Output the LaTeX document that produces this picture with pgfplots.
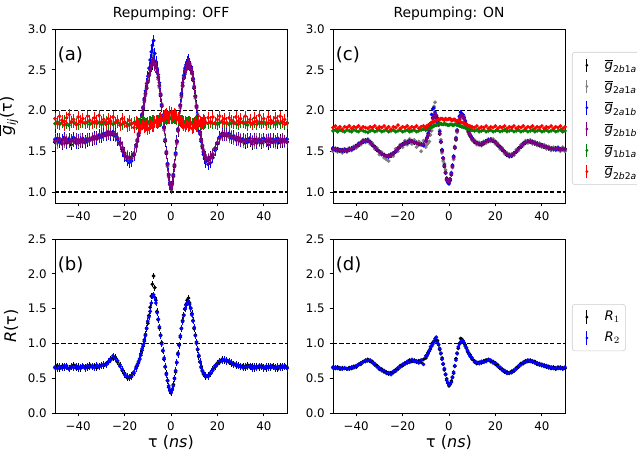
\documentclass[border=0pt]{standalone}
\usepackage{fontspec}
\setmainfont{DejaVu Sans}
\usepackage{amsmath}
\usepackage{pgfplots}
\pgfplotsset{compat=1.18}
\usepackage{pgfplotstable}
\definecolor{mgray}{HTML}{808080}
\definecolor{mblue}{HTML}{0000FF}
\definecolor{mpurple}{HTML}{800080}
\definecolor{mgreen}{HTML}{008000}
\definecolor{mred}{HTML}{FF0000}
\newcommand{\gs}[4]{$\overline{\textit{g}}_{\text{#1}\textit{#2}\text{#3}\textit{#4}}$}
% dot with a vertical error bar of fixed half length
\pgfdeclareplotmark{ebA}{%
  \pgfpathmoveto{\pgfqpoint{0pt}{-4.1pt}}\pgfpathlineto{\pgfqpoint{0pt}{4.1pt}}\pgfusepathqstroke
  \pgfpathcircle{\pgfpointorigin}{\pgfplotmarksize}\pgfusepathqfillstroke}
\pgfdeclareplotmark{ebB}{%
  \pgfpathmoveto{\pgfqpoint{0pt}{-2.2pt}}\pgfpathlineto{\pgfqpoint{0pt}{2.2pt}}\pgfusepathqstroke
  \pgfpathcircle{\pgfpointorigin}{\pgfplotmarksize}\pgfusepathqfillstroke}

% panel (a): t black gray blue purple green red
\pgfplotstableread{
t k s b p g r
-50 1.61 1.65 1.64 1.62 1.84 1.90
-49 1.64 1.60 1.66 1.63 1.86 1.84
-48 1.62 1.66 1.61 1.65 1.83 1.93
-47 1.59 1.63 1.64 1.60 1.85 1.88
-46 1.65 1.61 1.67 1.64 1.87 1.82
-45 1.60 1.64 1.60 1.62 1.84 1.91
-44 1.63 1.66 1.65 1.61 1.82 1.95
-43 1.58 1.62 1.63 1.64 1.85 1.86
-42 1.65 1.63 1.67 1.62 1.86 1.89
-41 1.62 1.65 1.60 1.65 1.84 1.83
-40 1.60 1.61 1.64 1.63 1.83 1.92
-39 1.64 1.65 1.62 1.61 1.86 1.87
-38 1.61 1.63 1.66 1.64 1.85 1.90
-37 1.63 1.60 1.61 1.62 1.84 1.85
-36 1.62 1.66 1.65 1.65 1.86 1.93
-35 1.66 1.63 1.64 1.64 1.83 1.88
-34 1.64 1.67 1.66 1.66 1.85 1.84
-33 1.65 1.65 1.68 1.65 1.86 1.91
-32 1.68 1.66 1.65 1.68 1.84 1.87
-31 1.67 1.70 1.70 1.67 1.85 1.94
-30 1.70 1.68 1.67 1.70 1.83 1.86
-29 1.69 1.72 1.72 1.69 1.85 1.89
-28 1.72 1.70 1.69 1.72 1.86 1.83
-27 1.71 1.74 1.74 1.71 1.84 1.90
-26 1.73 1.71 1.70 1.73 1.85 1.87
-25 1.70 1.73 1.74 1.72 1.83 1.92
-24 1.71 1.68 1.69 1.70 1.85 1.85
-23 1.65 1.67 1.64 1.66 1.86 1.88
-22 1.61 1.58 1.59 1.60 1.84 1.82
-21 1.52 1.55 1.50 1.54 1.83 1.90
-20 1.48 1.46 1.44 1.47 1.85 1.86
-19 1.42 1.44 1.39 1.43 1.84 1.81
-18 1.41 1.40 1.36 1.42 1.82 1.88
-17 1.43 1.42 1.38 1.41 1.84 1.84
-16 1.46 1.48 1.45 1.47 1.85 1.79
-15 1.58 1.55 1.56 1.57 1.83 1.86
-14 1.69 1.72 1.71 1.70 1.84 1.82
-13 1.87 1.85 1.88 1.86 1.85 1.78
-12 2.02 2.05 2.04 2.03 1.86 1.84
-11 2.21 2.18 2.24 2.20 1.84 1.80
-10 2.35 2.38 2.42 2.36 1.85 1.77
-9 2.51 2.49 2.62 2.50 1.86 1.83
-8 2.57 2.66 2.80 2.59 1.87 1.80
-7 2.60 2.57 2.70 2.56 1.86 1.86
-6 2.47 2.50 2.52 2.48 1.88 1.84
-5 2.31 2.28 2.34 2.30 1.87 1.90
-4 2.05 2.08 2.07 2.06 1.89 1.88
-3 1.79 1.76 1.80 1.78 1.90 1.94
-2 1.47 1.50 1.49 1.48 1.89 1.96
-1 1.21 1.18 1.22 1.20 1.91 1.92
0 1.04 1.07 1.06 1.05 1.90 1.97
1 1.19 1.22 1.21 1.20 1.92 1.93
2 1.47 1.45 1.48 1.46 1.90 1.95
3 1.75 1.78 1.77 1.76 1.89 1.91
4 2.06 2.03 2.07 2.05 1.88 1.87
5 2.31 2.29 2.34 2.30 1.87 1.84
6 2.47 2.50 2.52 2.48 1.86 1.80
7 2.58 2.55 2.60 2.57 1.85 1.85
8 2.55 2.58 2.57 2.56 1.86 1.82
9 2.47 2.45 2.48 2.46 1.84 1.78
10 2.27 2.30 2.29 2.28 1.85 1.84
11 2.06 2.03 2.04 2.05 1.86 1.81
12 1.82 1.85 1.82 1.83 1.84 1.87
13 1.65 1.63 1.62 1.64 1.85 1.83
14 1.49 1.52 1.46 1.50 1.83 1.89
15 1.43 1.41 1.37 1.42 1.85 1.85
16 1.39 1.41 1.34 1.40 1.84 1.91
17 1.43 1.41 1.36 1.42 1.86 1.86
18 1.45 1.47 1.42 1.46 1.84 1.92
19 1.54 1.52 1.51 1.53 1.85 1.84
20 1.59 1.61 1.60 1.60 1.83 1.89
21 1.67 1.65 1.68 1.66 1.85 1.93
22 1.69 1.71 1.72 1.70 1.86 1.87
23 1.72 1.70 1.69 1.71 1.84 1.90
24 1.69 1.72 1.71 1.70 1.85 1.85
25 1.70 1.67 1.72 1.69 1.83 1.91
26 1.67 1.69 1.66 1.68 1.85 1.88
27 1.68 1.65 1.69 1.67 1.86 1.84
28 1.65 1.67 1.64 1.66 1.84 1.92
29 1.66 1.63 1.67 1.65 1.83 1.87
30 1.63 1.66 1.62 1.64 1.85 1.90
31 1.64 1.61 1.65 1.63 1.86 1.85
32 1.60 1.64 1.63 1.62 1.84 1.93
33 1.65 1.62 1.61 1.64 1.82 1.86
34 1.62 1.66 1.66 1.63 1.85 1.89
35 1.59 1.63 1.62 1.61 1.84 1.83
36 1.64 1.60 1.65 1.64 1.86 1.91
37 1.61 1.65 1.60 1.62 1.83 1.87
38 1.63 1.62 1.64 1.65 1.85 1.94
39 1.60 1.64 1.61 1.61 1.84 1.86
40 1.65 1.61 1.66 1.63 1.86 1.90
41 1.62 1.63 1.62 1.64 1.83 1.84
42 1.58 1.66 1.64 1.62 1.85 1.92
43 1.64 1.62 1.61 1.65 1.84 1.88
44 1.61 1.64 1.65 1.61 1.86 1.85
45 1.63 1.60 1.62 1.63 1.83 1.91
46 1.60 1.65 1.66 1.64 1.85 1.87
47 1.64 1.62 1.61 1.62 1.84 1.93
48 1.61 1.64 1.64 1.65 1.86 1.86
49 1.63 1.61 1.62 1.63 1.83 1.89
50 1.62 1.65 1.65 1.61 1.85 1.84
-14.5 1.62 1.65 1.63 1.64 1.85 1.84
-13.5 1.79 1.76 1.80 1.78 1.84 1.80
-12.5 1.93 1.96 1.95 1.94 1.86 1.83
-11.5 2.13 2.10 2.15 2.12 1.85 1.79
-10.5 2.27 2.30 2.33 2.28 1.84 1.82
-9.5 2.45 2.42 2.52 2.43 1.86 1.78
-8.5 2.54 2.57 2.72 2.56 1.85 1.84
-7.5 2.62 2.68 2.86 2.61 1.87 1.81
-6.5 2.53 2.56 2.60 2.54 1.86 1.87
-5.5 2.41 2.38 2.44 2.40 1.88 1.85
-4.5 2.18 2.21 2.20 2.19 1.87 1.91
-3.5 1.93 1.90 1.94 1.92 1.89 1.89
-2.5 1.62 1.65 1.64 1.63 1.90 1.95
-1.5 1.34 1.31 1.35 1.33 1.90 1.93
-0.5 1.09 1.12 1.11 1.10 1.91 1.98
0.5 1.11 1.08 1.10 1.10 1.91 1.94
1.5 1.31 1.34 1.33 1.32 1.90 1.96
2.5 1.62 1.59 1.63 1.61 1.89 1.92
3.5 1.90 1.93 1.92 1.91 1.88 1.89
4.5 2.19 2.16 2.21 2.18 1.87 1.86
5.5 2.39 2.42 2.43 2.40 1.86 1.82
6.5 2.54 2.51 2.56 2.53 1.85 1.83
7.5 2.57 2.60 2.62 2.58 1.86 1.80
8.5 2.53 2.50 2.54 2.52 1.85 1.84
9.5 2.37 2.40 2.39 2.38 1.84 1.79
10.5 2.18 2.15 2.17 2.17 1.86 1.83
11.5 1.93 1.96 1.93 1.94 1.85 1.80
12.5 1.74 1.72 1.71 1.73 1.84 1.86
13.5 1.56 1.58 1.54 1.57 1.85 1.84
14.5 1.46 1.44 1.41 1.45 1.84 1.88
}\tA

% panel (c)
\pgfplotstableread{
t k s b p g r
-50 1.53 1.50 1.54 1.52 1.75 1.79
-49 1.51 1.54 1.52 1.53 1.76 1.81
-48 1.53 1.49 1.51 1.52 1.74 1.78
-47 1.50 1.52 1.52 1.51 1.76 1.80
-46 1.52 1.48 1.50 1.51 1.75 1.77
-45 1.50 1.53 1.52 1.51 1.74 1.80
-44 1.52 1.49 1.51 1.50 1.76 1.79
-43 1.51 1.54 1.53 1.52 1.75 1.81
-42 1.54 1.51 1.52 1.53 1.74 1.78
-41 1.53 1.56 1.55 1.54 1.76 1.80
-40 1.57 1.54 1.56 1.56 1.75 1.79
-39 1.57 1.60 1.59 1.58 1.74 1.81
-38 1.61 1.58 1.60 1.60 1.76 1.78
-37 1.61 1.64 1.63 1.62 1.75 1.80
-36 1.64 1.61 1.62 1.63 1.74 1.79
-35 1.62 1.65 1.64 1.63 1.73 1.78
-34 1.62 1.59 1.61 1.61 1.75 1.80
-33 1.57 1.60 1.58 1.58 1.76 1.79
-32 1.56 1.53 1.55 1.55 1.74 1.81
-31 1.51 1.54 1.52 1.52 1.75 1.78
-30 1.50 1.46 1.49 1.49 1.76 1.80
-29 1.46 1.49 1.47 1.47 1.74 1.79
-28 1.46 1.42 1.45 1.45 1.75 1.81
-27 1.43 1.40 1.44 1.44 1.76 1.78
-26 1.45 1.38 1.43 1.44 1.74 1.80
-25 1.44 1.47 1.46 1.45 1.75 1.77
-24 1.48 1.44 1.47 1.47 1.76 1.80
-23 1.49 1.53 1.50 1.50 1.74 1.79
-22 1.54 1.50 1.53 1.53 1.75 1.82
-21 1.55 1.58 1.57 1.56 1.76 1.78
-20 1.59 1.55 1.58 1.58 1.74 1.80
-19 1.59 1.63 1.61 1.60 1.75 1.79
-18 1.62 1.58 1.60 1.61 1.76 1.81
-17 1.61 1.65 1.63 1.62 1.74 1.78
-16 1.63 1.59 1.62 1.62 1.75 1.80
-15 1.60 1.64 1.61 1.61 1.76 1.79
-14 1.61 1.55 1.60 1.60 1.74 1.81
-13 1.58 1.62 1.59 1.59 1.75 1.78
-12 1.59 1.50 1.58 1.58 1.76 1.80
-11 1.58 1.63 1.57 1.59 1.77 1.81
-10 1.63 1.55 1.62 1.62 1.76 1.79
-9 1.69 1.60 1.72 1.70 1.78 1.82
-8 1.79 1.70 1.84 1.80 1.79 1.84
-7 1.91 1.83 2.02 1.90 1.80 1.86
-6 1.95 2.10 1.98 1.96 1.82 1.87
-5 1.91 1.85 1.86 1.90 1.83 1.88
-4 1.71 1.76 1.74 1.72 1.84 1.89
-3 1.51 1.48 1.52 1.50 1.83 1.90
-2 1.31 1.35 1.33 1.32 1.84 1.88
-1 1.17 1.14 1.15 1.16 1.83 1.89
0 1.13 1.11 1.10 1.12 1.82 1.90
1 1.21 1.24 1.23 1.22 1.83 1.88
2 1.43 1.40 1.44 1.42 1.82 1.89
3 1.64 1.67 1.66 1.65 1.83 1.87
4 1.85 1.82 1.86 1.84 1.82 1.88
5 1.92 1.95 1.98 1.93 1.81 1.86
6 1.94 1.91 1.95 1.93 1.80 1.85
7 1.85 1.88 1.87 1.86 1.79 1.83
8 1.78 1.75 1.79 1.77 1.78 1.82
9 1.69 1.72 1.70 1.70 1.77 1.81
10 1.66 1.63 1.65 1.65 1.76 1.80
11 1.61 1.64 1.62 1.62 1.75 1.79
12 1.61 1.58 1.60 1.60 1.76 1.81
13 1.58 1.61 1.59 1.59 1.74 1.78
14 1.60 1.57 1.58 1.59 1.75 1.80
15 1.59 1.62 1.61 1.60 1.76 1.79
16 1.63 1.60 1.62 1.62 1.74 1.81
17 1.62 1.65 1.64 1.63 1.75 1.78
18 1.65 1.62 1.64 1.64 1.76 1.80
19 1.62 1.65 1.63 1.63 1.74 1.79
20 1.62 1.59 1.61 1.61 1.75 1.81
21 1.57 1.60 1.58 1.58 1.76 1.78
22 1.56 1.53 1.55 1.55 1.74 1.80
23 1.51 1.54 1.52 1.52 1.75 1.79
24 1.50 1.47 1.49 1.49 1.76 1.81
25 1.45 1.48 1.46 1.46 1.74 1.78
26 1.46 1.43 1.44 1.45 1.75 1.80
27 1.44 1.47 1.45 1.45 1.76 1.79
28 1.48 1.45 1.47 1.47 1.74 1.81
29 1.49 1.52 1.50 1.50 1.75 1.78
30 1.54 1.51 1.53 1.53 1.76 1.80
31 1.55 1.58 1.56 1.56 1.74 1.79
32 1.60 1.57 1.59 1.59 1.75 1.81
33 1.60 1.63 1.61 1.61 1.76 1.78
34 1.63 1.60 1.62 1.62 1.74 1.80
35 1.61 1.64 1.62 1.62 1.75 1.79
36 1.62 1.59 1.61 1.61 1.76 1.81
37 1.59 1.62 1.60 1.60 1.74 1.78
38 1.60 1.57 1.59 1.59 1.75 1.80
39 1.57 1.60 1.58 1.58 1.76 1.79
40 1.58 1.55 1.57 1.57 1.74 1.81
41 1.55 1.58 1.56 1.56 1.75 1.78
42 1.56 1.53 1.55 1.55 1.76 1.80
43 1.53 1.56 1.54 1.54 1.74 1.79
44 1.54 1.51 1.53 1.53 1.75 1.81
45 1.52 1.55 1.53 1.53 1.76 1.78
46 1.54 1.51 1.52 1.53 1.74 1.80
47 1.52 1.55 1.54 1.53 1.75 1.79
48 1.53 1.50 1.52 1.52 1.76 1.81
49 1.52 1.55 1.53 1.53 1.74 1.78
50 1.53 1.50 1.52 1.52 1.75 1.80
-9.5 1.66 1.58 1.67 1.66 1.77 1.81
-8.5 1.75 1.62 1.78 1.75 1.78 1.83
-7.5 1.85 1.75 1.95 1.85 1.80 1.85
-6.5 1.93 2.05 2.03 1.93 1.81 1.86
-5.5 1.94 1.88 1.90 1.94 1.82 1.88
-4.5 1.82 1.86 1.84 1.82 1.83 1.89
-3.5 1.61 1.64 1.62 1.61 1.84 1.90
-2.5 1.41 1.38 1.42 1.41 1.83 1.89
-1.5 1.24 1.27 1.23 1.24 1.83 1.90
-0.5 1.13 1.11 1.12 1.13 1.82 1.89
0.5 1.16 1.15 1.14 1.16 1.83 1.90
1.5 1.32 1.30 1.33 1.31 1.82 1.88
2.5 1.54 1.56 1.55 1.54 1.83 1.89
3.5 1.75 1.73 1.76 1.75 1.82 1.87
4.5 1.89 1.91 1.93 1.89 1.81 1.87
5.5 1.94 1.92 1.96 1.94 1.80 1.85
6.5 1.90 1.93 1.91 1.90 1.79 1.84
7.5 1.81 1.83 1.82 1.81 1.78 1.83
8.5 1.73 1.71 1.74 1.73 1.77 1.81
9.5 1.67 1.69 1.68 1.67 1.76 1.80
}\tC

% panel (b): t R1 R2
\pgfplotstableread{
t ra rb
-50 0.66 0.65
-49 0.68 0.64
-48 0.64 0.67
-47 0.67 0.65
-46 0.65 0.68
-45 0.68 0.66
-44 0.64 0.63
-43 0.66 0.67
-42 0.69 0.65
-41 0.65 0.68
-40 0.67 0.64
-39 0.64 0.66
-38 0.68 0.67
-37 0.66 0.64
-36 0.65 0.68
-35 0.69 0.66
-34 0.66 0.67
-33 0.68 0.65
-32 0.65 0.69
-31 0.67 0.66
-30 0.69 0.68
-29 0.68 0.70
-28 0.71 0.69
-27 0.73 0.74
-26 0.78 0.76
-25 0.79 0.82
-24 0.80 0.78
-23 0.73 0.75
-22 0.69 0.67
-21 0.61 0.63
-20 0.57 0.55
-19 0.51 0.53
-18 0.50 0.52
-17 0.54 0.52
-16 0.57 0.59
-15 0.66 0.64
-14 0.72 0.74
-13 0.85 0.83
-12 0.96 0.98
-11 1.13 1.11
-10 1.29 1.32
-9 1.52 1.46
-8 1.85 1.68
-7 1.80 1.66
-6 1.46 1.44
-5 1.22 1.24
-4 1.01 0.99
-3 0.77 0.79
-2 0.57 0.55
-1 0.37 0.39
0 0.29 0.31
1 0.41 0.39
2 0.59 0.61
3 0.86 0.84
4 1.09 1.11
5 1.33 1.31
6 1.49 1.50
7 1.62 1.58
8 1.58 1.56
9 1.43 1.41
10 1.21 1.23
11 1.02 1.00
12 0.81 0.83
13 0.67 0.65
14 0.56 0.58
15 0.52 0.54
16 0.54 0.52
17 0.56 0.58
18 0.63 0.61
19 0.66 0.68
20 0.72 0.70
21 0.73 0.75
22 0.77 0.75
23 0.75 0.77
24 0.76 0.74
25 0.73 0.75
26 0.71 0.73
27 0.71 0.69
28 0.68 0.70
29 0.69 0.67
30 0.66 0.68
31 0.68 0.65
32 0.65 0.67
33 0.69 0.66
34 0.66 0.68
35 0.68 0.64
36 0.64 0.67
37 0.67 0.65
38 0.65 0.68
39 0.68 0.66
40 0.66 0.64
41 0.64 0.67
42 0.67 0.65
43 0.65 0.68
44 0.68 0.66
45 0.66 0.64
46 0.63 0.67
47 0.67 0.65
48 0.65 0.68
49 0.68 0.66
50 0.66 0.64
-14.5 0.68 0.70
-13.5 0.78 0.77
-12.5 0.90 0.92
-11.5 1.05 1.03
-10.5 1.21 1.22
-9.5 1.40 1.38
-8.5 1.68 1.58
-7.5 1.97 1.70
-6.5 1.62 1.58
-5.5 1.34 1.35
-4.5 1.12 1.11
-3.5 0.89 0.90
-2.5 0.66 0.67
-1.5 0.46 0.47
-0.5 0.32 0.33
0.5 0.34 0.33
1.5 0.50 0.49
2.5 0.72 0.73
3.5 0.98 0.97
4.5 1.21 1.22
5.5 1.41 1.40
6.5 1.56 1.55
7.5 1.65 1.60
8.5 1.51 1.50
9.5 1.33 1.32
10.5 1.12 1.11
11.5 0.91 0.92
12.5 0.73 0.74
13.5 0.61 0.60
14.5 0.54 0.55
}\tB

% panel (d)
\pgfplotstableread{
t ra rb
-50 0.66 0.65
-49 0.64 0.66
-48 0.66 0.64
-47 0.63 0.65
-46 0.65 0.63
-45 0.64 0.65
-44 0.63 0.64
-43 0.65 0.63
-42 0.64 0.66
-41 0.67 0.65
-40 0.66 0.68
-39 0.70 0.69
-38 0.70 0.72
-37 0.74 0.73
-36 0.74 0.76
-35 0.77 0.75
-34 0.74 0.76
-33 0.74 0.72
-32 0.69 0.71
-31 0.68 0.66
-30 0.63 0.65
-29 0.63 0.61
-28 0.59 0.61
-27 0.59 0.57
-26 0.56 0.58
-25 0.58 0.55
-24 0.58 0.60
-23 0.62 0.60
-22 0.63 0.65
-21 0.68 0.66
-20 0.68 0.70
-19 0.72 0.70
-18 0.72 0.74
-17 0.76 0.73
-16 0.74 0.77
-15 0.76 0.74
-14 0.73 0.75
-13 0.75 0.72
-12 0.73 0.76
-11 0.77 0.70
-10 0.79 0.82
-9 0.87 0.85
-8 0.92 0.95
-7 1.01 0.99
-6 1.04 1.07
-5 1.04 1.02
-4 0.91 0.93
-3 0.79 0.77
-2 0.62 0.64
-1 0.49 0.47
0 0.39 0.41
1 0.46 0.44
2 0.57 0.59
3 0.78 0.76
4 0.93 0.95
5 1.07 1.02
6 1.02 1.04
7 0.98 0.96
8 0.88 0.90
9 0.84 0.82
10 0.77 0.79
11 0.75 0.73
12 0.71 0.73
13 0.73 0.71
14 0.72 0.74
15 0.75 0.73
16 0.76 0.74
17 0.77 0.76
18 0.74 0.76
19 0.74 0.72
20 0.70 0.72
21 0.69 0.67
22 0.64 0.66
23 0.63 0.61
24 0.59 0.61
25 0.59 0.57
26 0.57 0.58
27 0.60 0.58
28 0.60 0.62
29 0.65 0.63
30 0.66 0.68
31 0.71 0.69
32 0.71 0.73
33 0.75 0.73
34 0.74 0.76
35 0.76 0.74
36 0.73 0.75
37 0.74 0.72
38 0.70 0.72
39 0.71 0.69
40 0.68 0.70
41 0.69 0.67
42 0.66 0.68
43 0.67 0.65
44 0.64 0.66
45 0.66 0.64
46 0.63 0.65
47 0.66 0.64
48 0.64 0.66
49 0.65 0.63
50 0.64 0.66
-9.5 0.83 0.82
-8.5 0.89 0.90
-7.5 0.96 0.97
-6.5 1.03 1.02
-5.5 1.05 1.09
-4.5 0.98 0.99
-3.5 0.85 0.86
-2.5 0.70 0.71
-1.5 0.55 0.56
-0.5 0.43 0.43
0.5 0.42 0.41
1.5 0.51 0.52
2.5 0.67 0.68
3.5 0.86 0.85
4.5 1.00 0.99
5.5 1.06 1.04
6.5 1.00 1.01
7.5 0.93 0.94
8.5 0.86 0.85
9.5 0.80 0.81
}\tD

\pgfplotsset{
  panel/.style={
    scale only axis, width=167.04pt, height=125.28pt, anchor=south west,
    xmin=-50, xmax=50, xtick={-40,-20,0,20,40}, xticklabels={−40,−20,0,20,40},
    tick align=outside, xtick pos=bottom, ytick pos=left,
    major tick length=2.5pt,
    every tick/.style={black, line width=0.6pt},
    axis line style={line width=0.6pt},
    tick label style={font=\fontsize{8.5}{10}\selectfont},
    y tick label style={/pgf/number format/fixed, /pgf/number format/fixed zerofill,
      /pgf/number format/precision=1, /pgf/number format/assume math mode=true},
    label style={font=\fontsize{11.5}{13}\selectfont},
    xlabel style={yshift=3.5pt},
    title style={font=\fontsize{10}{12}\selectfont, yshift=-3pt},
    legend style={draw=black!20, rounded corners=2pt, font=\fontsize{9.5}{11}\selectfont,
      row sep=2.6pt, inner xsep=2pt, inner ysep=3pt},
    legend cell align=left,
  },
  pts/.style={only marks, mark size=1.1pt, mark options={line width=0.5pt},
    legend image code/.code={
      \path[draw=none,fill=none] (0cm,0cm) -- (0.68cm,0cm);
      \draw[line width=0.6pt] (0.3cm,-0.17cm) -- (0.3cm,0.17cm);
      \fill[draw=none] (0.3cm,0cm) circle (1.1pt);}},
  hline/.style={black, line width=0.75pt, dash pattern=on 3pt off 1.6pt, forget plot},
}
\tikzset{plab/.style={anchor=west, inner sep=1pt, font=\fontsize{13}{15}\selectfont}}

\begin{document}
\begin{tikzpicture}
\path[use as bounding box] (0,0) rectangle (458.64pt,324pt);

% (a)
\begin{axis}[panel, at={(39.6pt,177.84pt)}, ymin=0.865, ymax=3.0,
  ytick={1.0,1.5,2.0,2.5,3.0}, title={Repumping: OFF},
  ylabel={$\overline{\textit{g}}_{\textit{ij}}$(τ)}]
\addplot[hline] coordinates {(-50,1) (50,1)};
\addplot[hline] coordinates {(-50,2) (50,2)};
\addplot[pts, black, mark=ebA] table[x=t,y=k] {\tA};
\addplot[pts, mgray, mark=ebA] table[x=t,y=s] {\tA};
\addplot[pts, mblue, mark=ebA] table[x=t,y=b] {\tA};
\addplot[pts, mpurple, mark=ebA] table[x=t,y=p] {\tA};
\addplot[pts, mgreen, mark=ebA] table[x=t,y=g] {\tA};
\addplot[pts, mred, mark=ebA] table[x=t,y=r] {\tA};
\node[plab] at (rel axis cs:0.005,0.85) {(a)};
\end{axis}

% (c)
\begin{axis}[panel, at={(239.76pt,177.84pt)}, ymin=0.865, ymax=3.0,
  ytick={1.0,1.5,2.0,2.5,3.0}, title={Repumping: ON},
  legend style={at={(1.03,0.868)}, anchor=north west}]
\addplot[hline] coordinates {(-50,1) (50,1)};
\addplot[hline] coordinates {(-50,2) (50,2)};
\addplot[pts, black, mark=*] table[x=t,y=k] {\tC};
\addlegendentry{\gs{2}{b}{1}{a}}
\addplot[pts, mgray, mark=*] table[x=t,y=s] {\tC};
\addlegendentry{\gs{2}{a}{1}{a}}
\addplot[pts, mblue, mark=*] table[x=t,y=b] {\tC};
\addlegendentry{\gs{2}{a}{1}{b}}
\addplot[pts, mpurple, mark=*] table[x=t,y=p] {\tC};
\addlegendentry{\gs{2}{b}{1}{b}}
\addplot[pts, mgreen, mark=*] table[x=t,y=g] {\tC};
\addlegendentry{\gs{1}{b}{1}{a}}
\addplot[pts, mred, mark=*] table[x=t,y=r] {\tC};
\addlegendentry{\gs{2}{b}{2}{a}}
\node[plab] at (rel axis cs:0.005,0.85) {(c)};
\end{axis}

% (b)
\begin{axis}[panel, at={(39.6pt,26.64pt)}, ymin=0, ymax=2.5,
  ytick={0,0.5,1.0,1.5,2.0,2.5},
  xlabel={τ (\textit{ns})}, ylabel={\textit{R}(τ)}]
\addplot[hline] coordinates {(-50,1) (50,1)};
\addplot[pts, black, mark=ebB] table[x=t,y=ra] {\tB};
\addplot[pts, mblue, mark=ebB] table[x=t,y=rb] {\tB};
\node[plab] at (rel axis cs:0.005,0.85) {(b)};
\end{axis}

% (d)
\begin{axis}[panel, at={(239.76pt,26.64pt)}, ymin=0, ymax=2.5,
  ytick={0,0.5,1.0,1.5,2.0,2.5},
  xlabel={τ (\textit{ns})},
  legend style={at={(1.03,0.626)}, anchor=north west}]
\addplot[hline] coordinates {(-50,1) (50,1)};
\addplot[pts, black, mark=*] table[x=t,y=ra] {\tD};
\addlegendentry{$\textit{R}_{1}$}
\addplot[pts, mblue, mark=*] table[x=t,y=rb] {\tD};
\addlegendentry{$\textit{R}_{2}$}
\node[plab] at (rel axis cs:0.005,0.85) {(d)};
\end{axis}
\end{tikzpicture}
\end{document}
